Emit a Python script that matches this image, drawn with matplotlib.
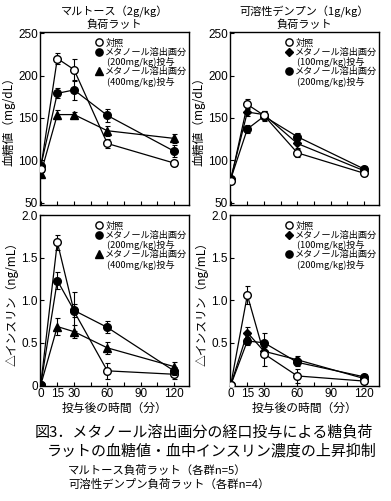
import numpy as np
import matplotlib
matplotlib.use("Agg")
import matplotlib.pyplot as plt
from matplotlib.lines import Line2D

plt.rcParams["font.family"] = ["Liberation Sans", "Noto Sans CJK JP"]

time = [0, 15, 30, 60, 120]

# maltose loaded rats, blood glucose (mg/dL)
malt_glu_ctrl = [90, 220, 207, 120, 97]
malt_glu_ctrl_err = [3, 7, 13, 5, 4]
malt_glu_200 = [93, 179, 183, 153, 111]
malt_glu_200_err = [3, 6, 12, 8, 7]
malt_glu_400 = [84, 154, 154, 135, 126]
malt_glu_400_err = [2, 5, 3, 6, 5]

# soluble starch loaded rats, blood glucose (mg/dL)
starch_glu_ctrl = [76, 166, 153, 109, 85]
starch_glu_ctrl_err = [2, 6, 5, 5, 3]
starch_glu_100 = [78, 157, 154, 120, 88]
starch_glu_100_err = [2, 5, 4, 5, 3]
starch_glu_200 = [78, 137, 152, 128, 90]
starch_glu_200_err = [2, 5, 5, 4, 3]

# maltose loaded rats, delta insulin (ng/mL)
malt_ins_ctrl = [0, 1.68, 0.87, 0.17, 0.13]
malt_ins_ctrl_err = [0, 0.09, 0.23, 0.09, 0.06]
malt_ins_200 = [0, 1.23, 0.88, 0.68, 0.17]
malt_ins_200_err = [0, 0.10, 0.08, 0.07, 0.05]
malt_ins_400 = [0, 0.69, 0.63, 0.44, 0.22]
malt_ins_400_err = [0, 0.10, 0.08, 0.07, 0.05]

# soluble starch loaded rats, delta insulin (ng/mL)
starch_ins_ctrl = [0, 1.06, 0.37, 0.11, 0.05]
starch_ins_ctrl_err = [0, 0.11, 0.14, 0.08, 0.03]
starch_ins_100 = [0, 0.62, 0.40, 0.30, 0.08]
starch_ins_100_err = [0, 0.06, 0.05, 0.04, 0.03]
starch_ins_200 = [0, 0.52, 0.50, 0.27, 0.10]
starch_ins_200_err = [0, 0.05, 0.11, 0.04, 0.03]

x_tick_labels = ["0", "15", "30", "", "60", "", "90", "", "120"]

malt_labels = ["対照", "メタノール溶出画分", " (200mg/kg)投与", "メタノール溶出画分", " (400mg/kg)投与"]
starch_labels = ["対照", "メタノール溶出画分", " (100mg/kg)投与", "メタノール溶出画分", " (200mg/kg)投与"]

JP = ["Noto Sans CJK JP", "DejaVu Sans"]

STYLE_OPEN = dict(marker="o", mfc="white", mec="black", ms=5.5)
STYLE_CIRC = dict(marker="o", mfc="black", mec="black", ms=5.5)
STYLE_TRI = dict(marker="^", mfc="black", mec="black", ms=5.5)
STYLE_DIA = dict(marker="D", mfc="black", mec="black", ms=4.2)


def draw_series(ax, y, err, style, z):
    ax.errorbar(time, y, yerr=err, color="black", lw=0.9, elinewidth=0.8,
                capsize=1.8, capthick=0.8, zorder=z, **style)


def style_axis(ax, ylim, yticks, yticklabels, show_xlabels):
    ax.set_xlim(-0.6, 133.5)
    ax.set_ylim(*ylim)
    ax.set_xticks(np.arange(0, 121, 15))
    if show_xlabels:
        ax.set_xticklabels(x_tick_labels)
    else:
        ax.set_xticklabels([])
    ax.set_yticks(yticks)
    ax.set_yticklabels(yticklabels)
    ax.tick_params(direction="in", length=3, width=0.8, labelsize=8.5, pad=1.5)
    for s in ax.spines.values():
        s.set_linewidth(1.0)


def add_legend(ax, labels, styles):
    empty = Line2D([], [], linestyle="none")
    handles = [
        Line2D([], [], linestyle="none", **styles[0]),
        Line2D([], [], linestyle="none", **styles[1]),
        empty,
        Line2D([], [], linestyle="none", **styles[2]),
        empty,
    ]
    ax.legend(handles, labels, loc="upper left", bbox_to_anchor=(0.34, 0.995),
              frameon=False, prop={"family": JP, "size": 6.6}, labelspacing=0.02,
              handlelength=0.7, handletextpad=0.3, borderpad=0.1, markerscale=0.95)


fig = plt.figure(figsize=(3.91, 5.01), dpi=100)
W, H = 391, 501


def add_axes(x0, x1, ytop, ybot):
    return fig.add_axes([x0 / W, 1 - ybot / H, (x1 - x0) / W, (ybot - ytop) / H])


ax1 = add_axes(40, 189, 32, 205)
ax2 = add_axes(230, 379, 32, 205)
ax3 = add_axes(40, 189, 215, 386)
ax4 = add_axes(230, 379, 215, 386)

draw_series(ax1, malt_glu_400, malt_glu_400_err, STYLE_TRI, 3)
draw_series(ax1, malt_glu_200, malt_glu_200_err, STYLE_CIRC, 4)
draw_series(ax1, malt_glu_ctrl, malt_glu_ctrl_err, STYLE_OPEN, 5)

draw_series(ax2, starch_glu_200, starch_glu_200_err, STYLE_CIRC, 3)
draw_series(ax2, starch_glu_100, starch_glu_100_err, STYLE_DIA, 4)
draw_series(ax2, starch_glu_ctrl, starch_glu_ctrl_err, STYLE_OPEN, 5)

draw_series(ax3, malt_ins_400, malt_ins_400_err, STYLE_TRI, 3)
draw_series(ax3, malt_ins_ctrl, malt_ins_ctrl_err, STYLE_OPEN, 4)
draw_series(ax3, malt_ins_200, malt_ins_200_err, STYLE_CIRC, 5)

draw_series(ax4, starch_ins_200, starch_ins_200_err, STYLE_CIRC, 3)
draw_series(ax4, starch_ins_100, starch_ins_100_err, STYLE_DIA, 4)
draw_series(ax4, starch_ins_ctrl, starch_ins_ctrl_err, STYLE_OPEN, 5)

glu_ticks = [50, 100, 150, 200, 250]
style_axis(ax1, (47.6, 251.2), glu_ticks, [str(t) for t in glu_ticks], False)
style_axis(ax2, (47.6, 251.2), glu_ticks, [str(t) for t in glu_ticks], False)
ins_ticks = [0, 0.5, 1.0, 1.5, 2.0]
style_axis(ax3, (-0.008, 2.0), ins_ticks, ["0", "0.5", "1.0", "1.5", "2.0"], True)
style_axis(ax4, (-0.008, 2.0), ins_ticks, ["", "0.5", "1.0", "1.5", "2.0"], True)

add_legend(ax1, malt_labels, [STYLE_OPEN, STYLE_CIRC, STYLE_TRI])
add_legend(ax2, starch_labels, [STYLE_OPEN, STYLE_DIA, STYLE_CIRC])
add_legend(ax3, malt_labels, [STYLE_OPEN, STYLE_CIRC, STYLE_TRI])
add_legend(ax4, starch_labels, [STYLE_OPEN, STYLE_DIA, STYLE_CIRC])

ax1.set_title("マルトース（2g/kg）\n負荷ラット", fontsize=8, family=JP, pad=3, linespacing=1.15)
ax2.set_title("可溶性デンプン（1g/kg）\n負荷ラット", fontsize=8, family=JP, pad=3, linespacing=1.15)

for ax in (ax1, ax2):
    ax.set_ylabel("血糖値（mg/dL）", fontsize=8.5, family=JP, labelpad=2)
for ax in (ax3, ax4):
    ax.set_ylabel("△インスリン（ng/mL）", fontsize=8.5, family=JP, labelpad=2)
    ax.set_xlabel("投与後の時間（分）", fontsize=8.5, family=JP, labelpad=1)

fig.text(35 / W, 1 - 432 / H, "図3．メタノール溶出画分の経口投与による糖負荷",
         fontsize=10.8, family=JP, va="center", ha="left")
fig.text(47 / W, 1 - 451 / H, "ラットの血糖値・血中インスリン濃度の上昇抑制",
         fontsize=10.8, family=JP, va="center", ha="left")
fig.text(68 / W, 1 - 470 / H, "マルトース負荷ラット（各群n=5）",
         fontsize=8.2, family=JP, va="center", ha="left")
fig.text(68 / W, 1 - 484 / H, "可溶性デンプン負荷ラット（各群n=4）",
         fontsize=8.2, family=JP, va="center", ha="left")

fig.savefig("out.png", dpi=100, facecolor="white")
